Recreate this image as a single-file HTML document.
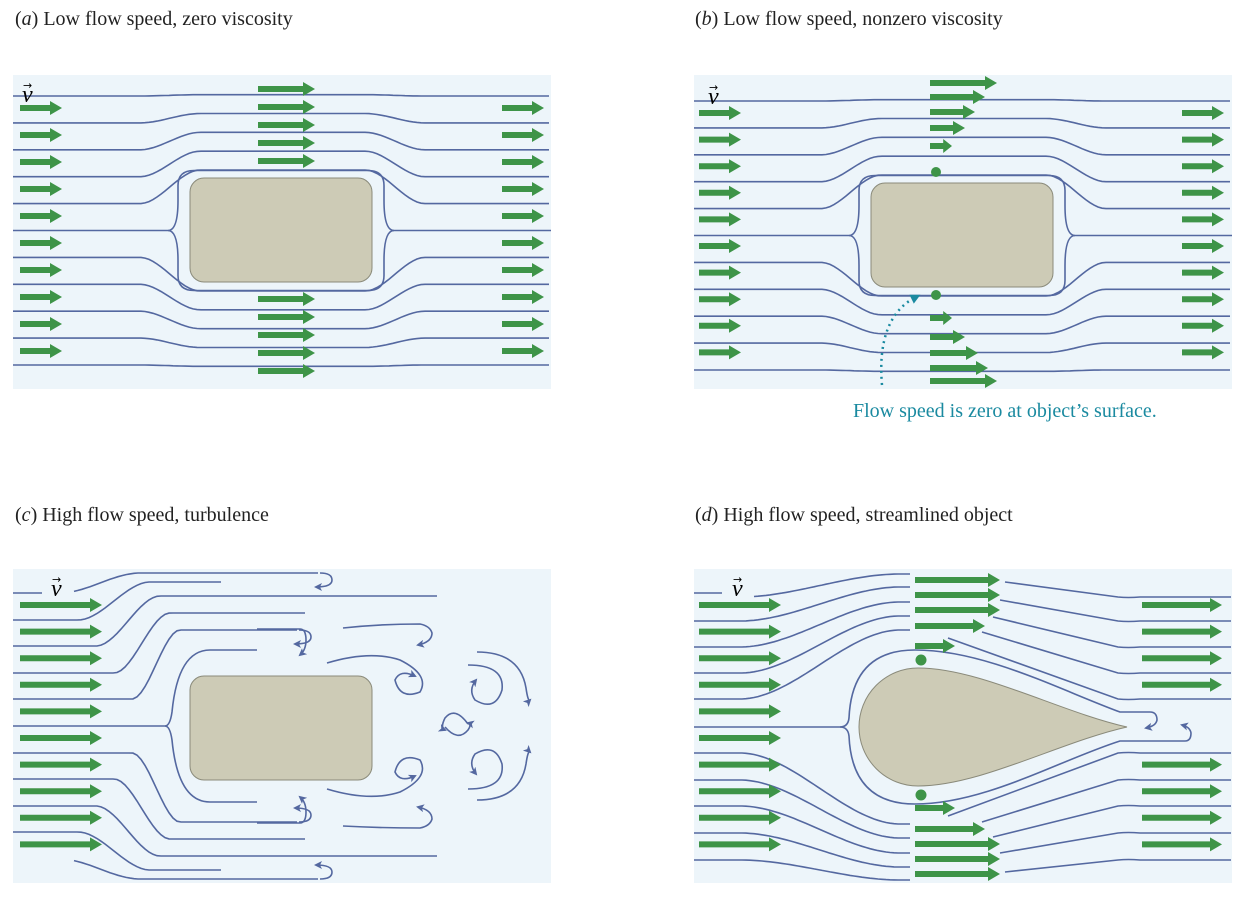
<!DOCTYPE html>
<html><head><meta charset="utf-8">
<style>
html,body{margin:0;padding:0;background:#fff;width:1260px;height:906px;overflow:hidden}
.t{position:absolute;font-family:"Liberation Serif",serif;font-size:20px;color:#222}
</style></head><body>
<div class="t" style="left:15px;top:8px">(<i>a</i>) Low flow speed, zero viscosity</div>
<div class="t" style="left:695px;top:8px">(<i>b</i>) Low flow speed, nonzero viscosity</div>
<div class="t" style="left:15px;top:504px">(<i>c</i>) High flow speed, turbulence</div>
<div class="t" style="left:695px;top:504px">(<i>d</i>) High flow speed, streamlined object</div>
<div class="t" style="left:853px;top:400px;color:#1a8aa0">Flow speed is zero at object’s surface.</div>
<svg id="s" width="1260" height="906" style="position:absolute;left:0;top:0"></svg>
<script>
var o='<defs><marker id="h" markerWidth="8" markerHeight="8" refX="6" refY="4" orient="auto" markerUnits="userSpaceOnUse"><path d="M0,0 L8,4 L0,8 L2,4Z" fill="#5468a0"/></marker><marker id="h2" markerWidth="10" markerHeight="10" refX="5" refY="5" orient="auto" markerUnits="userSpaceOnUse"><path d="M0,0 L10,5 L0,10Z" fill="#1a8aa0"/></marker></defs>';
function sm(a,b,x){var t=(x-a)/(b-a);t=t<0?0:t>1?1:t;return t*t*(3-2*t);}
function P(d,m){o+='<path d="'+d+'" fill="none" stroke="#5468a0" stroke-width="1.6"'+(m?' marker-end="url(#h)"':'')+'/>';}
function A(x1,x2,y){var h=Math.min(12,(x2-x1)*0.4);o+='<path d="M'+x1+','+(y-3)+'H'+(x2-h)+'V'+(y-7)+'L'+x2+','+y+'L'+(x2-h)+','+(y+7)+'V'+(y+3)+'H'+x1+'Z" fill="#3e9448"/>';}
function line(x0,x1,f){var d='';for(var x=x0;x<=x1;x+=4){d+=(d?'L':'M')+x+','+f(x).toFixed(1);}return d;}
[[13,75],[694,75],[13,569],[694,569]].forEach(function(p){o+='<rect x="'+p[0]+'" y="'+p[1]+'" width="538" height="314" fill="#edf5fa"/>';});
function ab(ox,oy){
 for(var i=0;i<11;i++){if(i==5)continue;var y0=96+26.9*i+oy;
  var yt=i<5?170+oy-(203.6+oy-y0)*0.7:291+oy+(y0-257.4-oy)*0.7;
  (function(y0,yt){P(line(13+ox,551+ox,function(x){return y0+(yt-y0)*(sm(140+ox,200+ox,x)-sm(365+ox,425+ox,x));}));})(y0,yt);}
 var c=230.5+oy,L=172+ox,R=390+ox;
 P('M'+(13+ox)+','+c+'H'+(L-4)+'Q'+(L+6)+','+c+' '+(L+6)+','+(c-30)+'V'+(c-45)+'Q'+(L+6)+','+(c-60)+' '+(L+22)+','+(c-60)+'H'+(R-22)+'Q'+(R-6)+','+(c-60)+' '+(R-6)+','+(c-45)+'V'+(c-30)+'Q'+(R-6)+','+c+' '+(R+4)+','+c+'H'+(551+ox));
 P('M'+(L-4)+','+c+'Q'+(L+6)+','+c+' '+(L+6)+','+(c+30)+'V'+(c+45)+'Q'+(L+6)+','+(c+60)+' '+(L+22)+','+(c+60)+'H'+(R-22)+'Q'+(R-6)+','+(c+60)+' '+(R-6)+','+(c+45)+'V'+(c+30)+'Q'+(R-6)+','+c+' '+(R+4)+','+c);
 o+='<rect x="'+(190+ox)+'" y="'+(178+oy)+'" width="182" height="104" rx="14" fill="#cdcbb6" stroke="#8a8a7a"/>';
}
ab(0,0);ab(681,5);
for(var i=0;i<10;i++){A(20,62,108+27*i);A(502,544,108+27*i);A(699,741,113+26.6*i);A(1182,1224,113+26.6*i);}
[89,107,125,143,161,299,317,335,353,371].forEach(function(y){A(258,315,y);});
A(930,997,83);A(930,985,97);A(930,975,112);A(930,965,128);A(930,952,146);
A(930,952,318);A(930,965,337);A(930,978,353);A(930,988,368);A(930,997,381);
o+='<circle cx="936" cy="172" r="5" fill="#3e9448"/><circle cx="936" cy="295" r="5" fill="#3e9448"/>';
o+='<path d="M882,385 C878,340 890,310 916,297" fill="none" stroke="#1a8aa0" stroke-width="2.5" stroke-dasharray="2,4" marker-end="url(#h2)"/>';
function V(x,y){o+='<text x="'+x+'" y="'+y+'" font-family="Liberation Serif" font-style="italic" font-size="24">v</text><text x="'+(x+1)+'" y="'+(y-13)+'" font-family="DejaVu Sans" font-size="11">→</text>';}
V(22,102);V(708,104);
o+='<rect x="42" y="574" width="34" height="26" fill="#edf5fa"/>';V(51,596);
o+='<rect x="723" y="574" width="34" height="26" fill="#edf5fa"/>';V(732,596);
// panel c
var cy0=[593,620,646,673,699],tg=[573,582,596,613,630],ends=[326,221,437,307,305],hook=[1,0,0,0,1];
for(var k=0;k<2;k++)for(var i=0;i<5;i++){
 var s=k?-1:1,y0=k?(726+(726-cy0[i])):cy0[i],yt=k?(726+(726-tg[i])):tg[i];
 var xs=i==0?74:13;
 (function(y0,yt){P(line(xs,ends[i]-(hook[i]?6:0),function(x){return y0+(yt-y0)*sm(60+i*18,140+i*10,x);}));})(y0,yt);
 if(hook[i]){var xe=ends[i]-6;P('M'+xe+','+yt+'Q'+(xe+12)+','+yt+' '+(xe+12)+','+(yt+s*7)+'Q'+(xe+12)+','+(yt+s*14)+' '+(xe-4)+','+(yt+s*14),1);}
}
P('M13,593H42');
P('M13,726H165Q170,726 172,712Q178,650 210,650H257');
P('M165,726Q170,726 172,740Q178,802 210,802H257');
P('M257,629H300Q306,629 306,640Q306,650 300,655',1);
P('M257,823H300Q306,823 306,812Q306,802 300,797',1);
P('M343,628Q380,624 420,624Q430,626 432,633Q432,642 418,645',1);
P('M343,826Q380,828 420,828Q430,826 432,819Q432,810 418,807',1);
P('M327,663Q370,650 400,660Q430,675 420,692Q400,700 395,680Q400,669 415,676',1);
P('M327,789Q370,802 400,792Q430,777 420,760Q400,752 395,772Q400,783 415,776',1);
P('M477,652Q520,652 526,688Q528,702 530,700',1);
P('M477,800Q520,800 526,764Q528,750 530,752',1);
P('M468,665Q505,665 502,690Q495,712 475,700Q468,690 476,680',1);
P('M468,789Q505,789 502,764Q495,742 475,754Q468,764 476,774',1);
P('M468,724Q455,706 445,718Q440,728 445,730',1);P('M445,727Q458,742 468,730Q472,724 468,723',1);
o+='<rect x="190" y="676" width="182" height="104" rx="14" fill="#cdcbb6" stroke="#8a8a7a"/>';
for(var i=0;i<10;i++)A(20,102,605+26.6*i);
// panel d
var L0=[597,621,647,673,699],T0=[574,587,602,616,630],RS=[[1005,582],[1000,600],[993,617],[982,632],[948,638]];
var L1=[753,780,806,833,860],T1=[824,838,853,867,880],RS1=[[948,816],[982,822],[993,837],[1000,853],[1005,872]];
for(var i=0;i<5;i++){
 (function(y0,yt,xs){P(line(xs,910,function(x){return y0+(yt-y0)*sm(740,900,x);}));})(L0[i],T0[i],i==0?754:694);
 (function(y0,yt){P(line(694,910,function(x){return y0+(yt-y0)*sm(740,900,x);}));})(L1[i],T1[i]);
 P('M'+RS[i][0]+','+RS[i][1]+'L1118,'+L0[i]+'Q1128,'+(L0[i]+1)+' 1140,'+L0[i]+'H1231');
 P('M'+RS1[i][0]+','+RS1[i][1]+'L1118,'+L1[i]+'Q1128,'+(L1[i]-1)+' 1140,'+L1[i]+'H1231');
}
P('M694,593H722');
P('M694,727H840Q848,727 849,718Q852,650 915,650C985,650 1060,690 1120,712H1150Q1157,712 1157,720Q1156,726 1146,728',1);
P('M840,727Q848,727 849,736Q852,804 915,804C985,804 1060,760 1120,741H1185Q1191,741 1191,733Q1190,727 1182,725',1);
o+='<path d="M1127,727 C1060,712 980,668 918,668 A59,59 0 0 0 918,786 C980,786 1060,742 1127,727Z" fill="#cdcbb6" stroke="#8a8a7a"/>';
for(var i=0;i<10;i++){A(699,781,605+26.6*i);if(i<4||i>5)A(1142,1222,605+26.6*i);}
A(915,1000,580);A(915,1000,595);A(915,1000,610);A(915,985,626);A(915,955,646);
A(915,955,808);A(915,985,829);A(915,1000,844);A(915,1000,859);A(915,1000,874);
o+='<circle cx="921" cy="660" r="5.5" fill="#3e9448"/><circle cx="921" cy="795" r="5.5" fill="#3e9448"/>';
document.getElementById('s').innerHTML=o;
</script>
</body></html>
